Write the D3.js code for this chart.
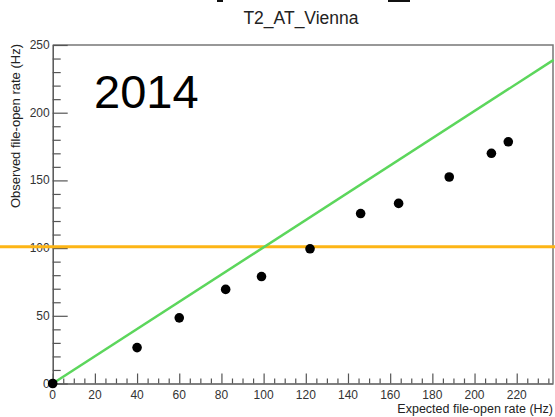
<!DOCTYPE html>
<html>
<head>
<meta charset="utf-8">
<script src="https://cdn.jsdelivr.net/npm/d3@7"></script>
<style>
  html, body { margin: 0; padding: 0; background: #fff; }
  svg { display: block; font-family: "Liberation Sans", Arial, sans-serif; }
</style>
</head>
<body>
<div id="chart"></div>
<script>
// measured points (expected vs observed file-open rate)
const expectedRate = [0, 40, 60, 82, 99, 122, 146, 164, 188, 208, 216];
const observedRate = [0, 26.5, 48.5, 69.5, 79, 99.5, 125.5, 133, 152.5, 170, 178.5];

// reference lines
const diagonalX = [0, 237.5];
const diagonalY = [0, 239];
const thresholdY = 101;

const xTicks = [0, 20, 40, 60, 80, 100, 120, 140, 160, 180, 200, 220];
const yTicks = [0, 50, 100, 150, 200, 250];

const titleText = "T2_AT_Vienna";
const yearText = "2014";

const width = 555, height = 417;
const margin = { left: 52.7, right: 2, top: 45, bottom: 33.5 };

const svg = d3.select("#chart").append("svg")
  .attr("width", width)
  .attr("height", height);

const x = d3.scaleLinear().domain([0, 237.2]).range([margin.left, width - margin.right]);
const y = d3.scaleLinear().domain([0, 250]).range([height - margin.bottom, margin.top]);

// cropped remnants of text above the title
svg.append("rect").attr("x", 217).attr("y", 0).attr("width", 6).attr("height", 2).attr("fill", "#111");
svg.append("rect").attr("x", 388).attr("y", 0).attr("width", 22).attr("height", 2).attr("fill", "#111");

svg.append("text")
  .attr("x", 301).attr("y", 24)
  .attr("text-anchor", "middle")
  .attr("font-size", 17.5)
  .attr("fill", "#222")
  .text(titleText);

// frame (top + right)
svg.append("path")
  .attr("d", `M${x(0)},${y(250)}H${x.range()[1]}V${y(0)}`)
  .attr("fill", "none")
  .attr("stroke", "#777")
  .attr("stroke-width", 1.5);

// x axis: ticks point up into the plot
const xAxis = d3.axisTop(x)
  .tickValues(d3.range(0, 237, 5))
  .tickSize(0)
  .tickFormat("");
const gx = svg.append("g").attr("transform", `translate(0,${y(0)})`).call(xAxis);
gx.select(".domain").attr("stroke", "#555").attr("stroke-width", 1.5);
gx.selectAll(".tick line")
  .attr("y2", d => d % 20 === 0 ? -10 : -5)
  .attr("stroke", "#555")
  .attr("stroke-width", 1.2);

svg.append("g").selectAll("text")
  .data(xTicks)
  .join("text")
  .attr("x", d => x(d))
  .attr("y", y(0) + 15)
  .attr("text-anchor", "middle")
  .attr("font-size", 12)
  .attr("fill", "#333")
  .text(d => d);

// y axis: ticks point right into the plot
const yAxis = d3.axisRight(y)
  .tickValues(d3.range(0, 251, 10))
  .tickSize(0)
  .tickFormat("");
const gy = svg.append("g").attr("transform", `translate(${x(0)},0)`).call(yAxis);
gy.select(".domain").attr("stroke", "#555").attr("stroke-width", 1.5);
gy.selectAll(".tick line")
  .attr("x2", d => d % 50 === 0 ? 15 : 8)
  .attr("stroke", "#555")
  .attr("stroke-width", 1.2);

svg.append("g").selectAll("text")
  .data(yTicks)
  .join("text")
  .attr("x", x(0) - 3)
  .attr("y", d => y(d) + 4)
  .attr("text-anchor", "end")
  .attr("font-size", 12)
  .attr("fill", "#333")
  .text(d => d);

// axis titles
svg.append("text")
  .attr("x", width - 2).attr("y", 413)
  .attr("text-anchor", "end")
  .attr("font-size", 12.5)
  .attr("fill", "#222")
  .text("Expected file-open rate (Hz)");

svg.append("text")
  .attr("transform", `translate(20,${margin.top - 1}) rotate(-90)`)
  .attr("text-anchor", "end")
  .attr("font-size", 13)
  .attr("fill", "#222")
  .text("Observed file-open rate (Hz)");

// threshold line spans the whole picture width
svg.append("line")
  .attr("x1", 0).attr("x2", width)
  .attr("y1", y(thresholdY)).attr("y2", y(thresholdY))
  .attr("stroke", "#FDB515")
  .attr("stroke-width", 3);

// diagonal expected == observed
svg.append("path")
  .datum(d3.zip(diagonalX, diagonalY))
  .attr("d", d3.line().x(d => x(d[0])).y(d => y(d[1])))
  .attr("fill", "none")
  .attr("stroke", "#5CD65C")
  .attr("stroke-width", 2.5);

// points
svg.append("g").selectAll("circle")
  .data(d3.zip(expectedRate, observedRate))
  .join("circle")
  .attr("cx", d => x(d[0]))
  .attr("cy", d => y(d[1]))
  .attr("r", 4.8)
  .attr("fill", "#000");

svg.append("text")
  .attr("x", 94).attr("y", 108)
  .attr("font-size", 47)
  .attr("fill", "#000")
  .text(yearText);
</script>
</body>
</html>
